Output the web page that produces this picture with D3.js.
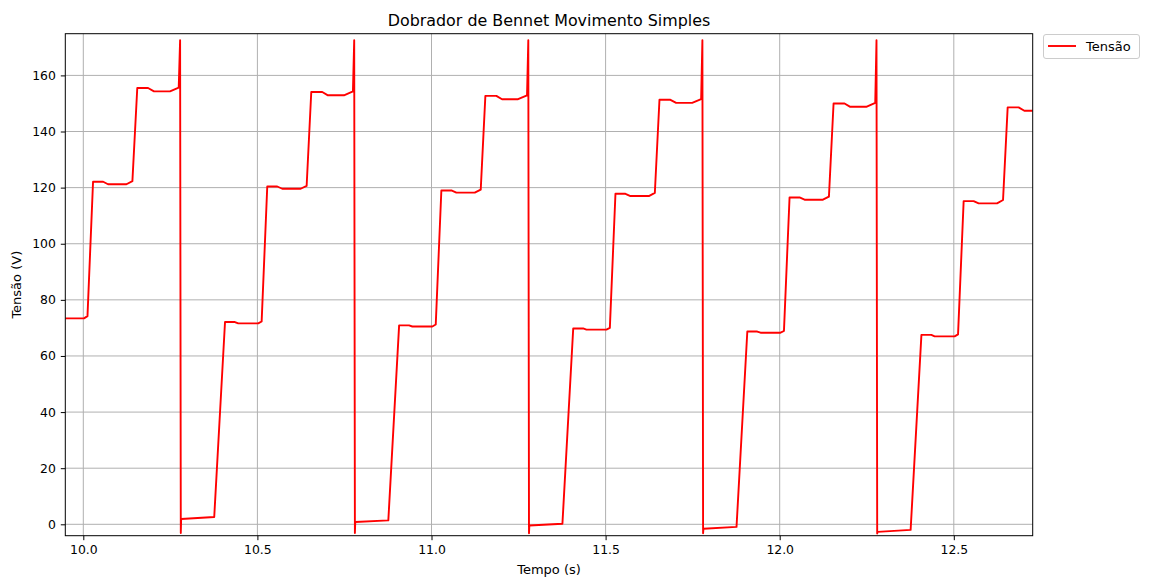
<!DOCTYPE html>
<html>
<head>
<meta charset="utf-8">
<script src="https://cdn.jsdelivr.net/npm/d3@7"></script>
<style>
  html, body { margin: 0; padding: 0; background: #ffffff; }
  svg { display: block; font-family: "DejaVu Sans", sans-serif; }
</style>
</head>
<body>
<svg id="chart" width="1150" height="581"></svg>
<script>
// ---- data ----
const title = "Dobrador de Bennet Movimento Simples";
const xLabel = "Tempo (s)";
const yLabel = "Tensão (V)";
const seriesName = "Tensão";
const xTicks = [10.0, 10.5, 11.0, 11.5, 12.0, 12.5];
const yTicks = [0, 20, 40, 60, 80, 100, 120, 140, 160];
const xDomain = [9.9483, 12.7266];
const yDomain = [-4.06, 174.86];

const tempo = [
  9.948, 10.002, 10.012, 10.028, 10.057, 10.071, 10.124, 10.141, 10.155, 10.186, 10.203, 10.249, 10.274,
  10.278, 10.280, 10.281, 10.376, 10.407, 10.4355, 10.445, 10.5024, 10.5122, 10.5283, 10.557, 10.5714, 10.6242, 10.6414, 10.6547, 10.6862, 10.7026, 10.7486, 10.7744,
  10.778, 10.780, 10.781, 10.876, 10.907, 10.9355, 10.945, 11.0024, 11.0122, 11.0283, 11.057, 11.0714, 11.1242, 11.1414, 11.1547, 11.1862, 11.2026, 11.2486, 11.2744,
  11.278, 11.280, 11.281, 11.376, 11.407, 11.4355, 11.445, 11.5024, 11.5122, 11.5283, 11.557, 11.5714, 11.6242, 11.6414, 11.6547, 11.6862, 11.7026, 11.7486, 11.7744,
  11.778, 11.780, 11.781, 11.876, 11.907, 11.9355, 11.945, 12.0024, 12.0122, 12.0283, 12.057, 12.0714, 12.1242, 12.1414, 12.1547, 12.1862, 12.2026, 12.2486, 12.2744,
  12.278, 12.280, 12.281, 12.376, 12.407, 12.4355, 12.445, 12.5024, 12.5122, 12.5283, 12.557, 12.5714, 12.6242, 12.6414, 12.6547, 12.6862, 12.7026, 12.727
];
const tensao = [
  73.4, 73.4, 74.2, 122.1, 122.1, 121.2, 121.2, 122.3, 155.5, 155.5, 154.3, 154.3, 155.6,
  172.5, -3.1, 1.9, 2.6, 72.1, 72.1, 71.6, 71.6, 72.3, 120.4, 120.4, 119.6, 119.6, 120.6, 154.1, 154.1, 152.9, 152.9, 154.3,
  172.5, -3.1, 0.8, 1.4, 70.9, 70.9, 70.5, 70.5, 71.2, 119.0, 119.0, 118.2, 118.2, 119.3, 152.7, 152.7, 151.5, 151.5, 152.9,
  172.5, -3.2, -0.4, 0.2, 69.8, 69.8, 69.4, 69.4, 70.0, 117.8, 117.8, 117.0, 117.0, 118.1, 151.3, 151.3, 150.2, 150.2, 151.5,
  172.5, -3.2, -1.6, -0.9, 68.7, 68.7, 68.3, 68.3, 68.9, 116.5, 116.5, 115.7, 115.7, 116.8, 150.0, 150.0, 148.8, 148.8, 150.2,
  172.5, -3.3, -2.7, -2.0, 67.5, 67.5, 67.0, 67.0, 67.7, 115.2, 115.2, 114.4, 114.4, 115.6, 148.6, 148.6, 147.4, 147.4
];

// ---- layout ----
const m = { left: 65.3, right: 1032.7, top: 33.7, bottom: 535.7 };
const svg = d3.select("#chart");

const x = d3.scaleLinear().domain(xDomain).range([m.left, m.right]);
const y = d3.scaleLinear().domain(yDomain).range([m.bottom, m.top]);

const points = tempo.map((t, i) => [t, tensao[i]]);

// clip
svg.append("defs").append("clipPath").attr("id", "clip")
  .append("rect").attr("x", m.left).attr("y", m.top)
  .attr("width", m.right - m.left).attr("height", m.bottom - m.top);

// grid
const grid = svg.append("g");
grid.selectAll("line.gx").data(xTicks).join("line")
  .attr("class", "gx")
  .attr("x1", d => x(d)).attr("x2", d => x(d))
  .attr("y1", m.top).attr("y2", m.bottom)
  .attr("stroke", "#b0b0b0").attr("stroke-width", 1);
grid.selectAll("line.gy").data(yTicks).join("line")
  .attr("class", "gy")
  .attr("x1", m.left).attr("x2", m.right)
  .attr("y1", d => y(d)).attr("y2", d => y(d))
  .attr("stroke", "#b0b0b0").attr("stroke-width", 1);

// line
svg.append("path")
  .datum(points)
  .attr("clip-path", "url(#clip)")
  .attr("fill", "none")
  .attr("stroke", "#ff0000")
  .attr("stroke-width", 1.9)
  .attr("stroke-linejoin", "round")
  .attr("d", d3.line().x(d => x(d[0])).y(d => y(d[1])));

// axes
const fs = 12.4;
const labelFs = 13;
const xAxis = svg.append("g").attr("transform", `translate(0,${m.bottom})`)
  .call(d3.axisBottom(x).tickValues(xTicks).tickFormat(d3.format(".1f")).tickSize(4.5).tickPadding(5));
const yAxis = svg.append("g").attr("transform", `translate(${m.left},0)`)
  .call(d3.axisLeft(y).tickValues(yTicks).tickFormat(d3.format("d")).tickSize(4.5).tickPadding(5));
[xAxis, yAxis].forEach(g => {
  g.select(".domain").remove();
  g.selectAll("text").attr("font-size", fs).attr("fill", "#000").attr("font-family", "DejaVu Sans");
  g.selectAll(".tick line").attr("stroke", "#000").attr("stroke-width", 1);
});

// frame
svg.append("rect")
  .attr("x", m.left).attr("y", m.top)
  .attr("width", m.right - m.left).attr("height", m.bottom - m.top)
  .attr("fill", "none").attr("stroke", "#000").attr("stroke-width", 1);

// title & labels
svg.append("text")
  .attr("x", (m.left + m.right) / 2).attr("y", 25.5)
  .attr("text-anchor", "middle").attr("font-size", 15.9).attr("fill", "#000")
  .text(title);
svg.append("text")
  .attr("x", (m.left + m.right) / 2).attr("y", 574)
  .attr("text-anchor", "middle").attr("font-size", labelFs).attr("fill", "#000")
  .text(xLabel);
svg.append("text")
  .attr("transform", `translate(21,${(m.top + m.bottom) / 2}) rotate(-90)`)
  .attr("text-anchor", "middle").attr("font-size", labelFs).attr("fill", "#000")
  .text(yLabel);

// legend
const lg = svg.append("g").attr("transform", "translate(1043,34)");
lg.append("rect").attr("x", 0.5).attr("y", 0.5).attr("width", 96).attr("height", 24)
  .attr("rx", 2.5).attr("fill", "#fff").attr("stroke", "#cccccc").attr("stroke-width", 1);
lg.append("line").attr("x1", 5).attr("x2", 33).attr("y1", 12).attr("y2", 12)
  .attr("stroke", "#ff0000").attr("stroke-width", 1.9);
lg.append("text").attr("x", 43).attr("y", 16.5).attr("font-size", labelFs).attr("fill", "#000")
  .text(seriesName);
</script>
</body>
</html>
